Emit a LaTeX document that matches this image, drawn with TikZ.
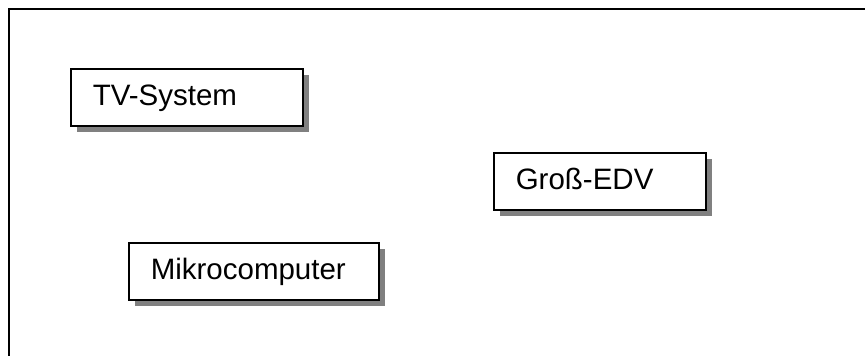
\documentclass[tikz,border=0pt]{standalone}
\usepackage{fontspec}
\setmainfont{Liberation Sans}
\usetikzlibrary{positioning,shadows}
\tikzset{sysbox/.style={draw, line width=1.5pt, fill=white, anchor=north west,
    minimum height=57pt, inner xsep=22pt, inner ysep=0pt, align=left,
    text height=22pt, text depth=5pt,
    font=\fontsize{29.5}{35}\selectfont,
    drop shadow={shadow xshift=6.5pt, shadow yshift=-6.5pt, fill=black!50, opacity=1}}}

\begin{document}
\begin{tikzpicture}[x=1pt,y=-1pt]
\useasboundingbox (0,0) rectangle (865,356);
% rahmen
\draw [line width=2pt] (9,356) -- (9,9) -- (865,9);
\node [sysbox,text width=188pt] (tv) at (70,68) {TV-System};
\node [sysbox,text width=168pt] (edv) at (493,152) {Groß-EDV};
\node [sysbox,text width=206pt] (mc) at (128,242) {Mikrocomputer};
\end{tikzpicture}
\end{document}
